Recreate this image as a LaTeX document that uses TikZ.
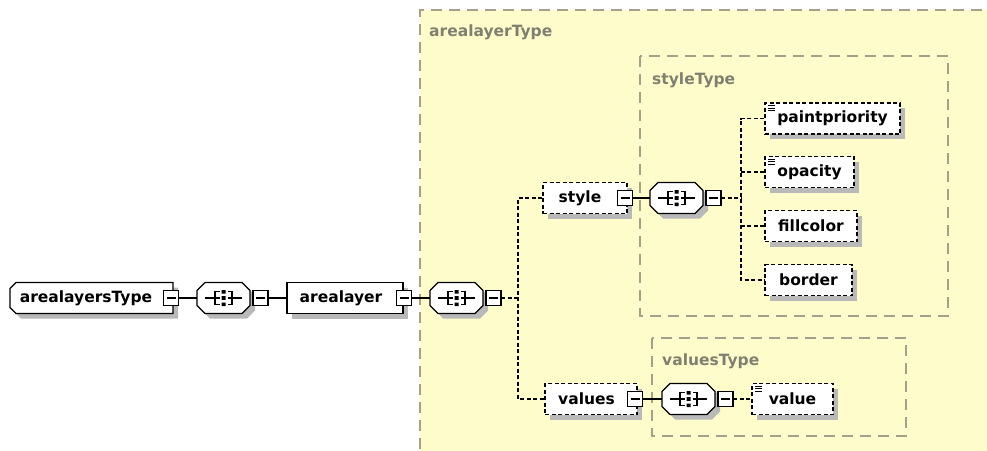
\documentclass[tikz,border=0pt]{standalone}
\usepackage{fontspec}
\setmainfont{DejaVu Sans}
\definecolor{bgyellow}{RGB}{255,252,204}
\definecolor{boxgray}{RGB}{165,160,140}
\definecolor{labelgray}{RGB}{128,128,112}
\definecolor{shadowgray}{RGB}{185,185,185}
\tikzset{
  txt/.style={font=\bfseries\fontsize{15.5}{16}\selectfont, inner sep=0pt},
  grouplabel/.style={txt, text=labelgray, anchor=west},
  outline/.style={draw=black, fill=white, line width=1.3pt, line join=miter},
  elemframe/.style={txt, draw=black, fill=white, line width=1.3pt, minimum height=31pt},
  dashline/.style={dash pattern=on 4pt off 2.5pt},
  shadow/.style={fill=shadowgray},
  groupbox/.style={draw=boxgray, line width=1.4pt, dash pattern=on 11pt off 7pt},
  minusbox/.style={draw=black, fill=white, line width=1.3pt, minimum size=15pt, inner sep=0pt, outer sep=0pt,
    path picture={\draw[line width=1.1pt] ([xshift=3pt]path picture bounding box.west) -- ([xshift=-3pt]path picture bounding box.east);}},
  conn/.style={draw=black, line width=1.3pt},
  optconn/.style={conn, dash pattern=on 4pt off 2.5pt},
  iconline/.style={draw=black, line width=0.9pt},
}
% sequence compositor: name, left x, centre y
\newcommand\seqgroup[3]{%
  \begin{scope}[shift={(#2,#3)}]
    \fill[shadow] (13,-10.5) -- (50,-10.5) -- (58,-2.5) -- (58,12.5) -- (50,20.5) -- (13,20.5) -- (5,12.5) -- (5,-2.5) -- cycle;
    \draw[outline] (8,-15.5) -- (45,-15.5) -- (53,-7.5) -- (53,7.5) -- (45,15.5) -- (8,15.5) -- (0,7.5) -- (0,-7.5) -- cycle;
    \node[inner sep=0pt, minimum width=53pt, minimum height=31pt] (#1) at (26.5,0) {};
    \draw[line width=1.2pt] (8,0) -- (22.5,0) (22.5,-6.5) -- (18,-6.5) -- (18,6.5) -- (22.5,6.5);
    \draw[line width=1.2pt] (45,0) -- (30.5,0) (30.5,-6.5) -- (35,-6.5) -- (35,6.5) -- (30.5,6.5);
    \fill (24.5,-8) rectangle (28.5,-4.5) (24.5,-1.8) rectangle (28.5,1.8) (24.5,4.5) rectangle (28.5,8);
    \node[minusbox] (#1m) at (63.5,0) {};
  \end{scope}}
% element box: name, left, right, centre y, text, extra style
\newcommand\elembox[6]{%
  \fill[shadow] (#2+5,#4-10.5) rectangle (#3+5,#4+20.5);
  \node[elemframe,#6, minimum width={(#3-#2)*1pt}] (#1) at ({(#2+#3)/2},#4) {#5};}
% simple-content icon: left, centre y
\newcommand\eqicon[2]{%
  \draw[iconline] (#1+3,#2-13) -- (#1+10,#2-13) (#1+3,#2-10.5) -- (#1+10,#2-10.5) (#1+3,#2-8) -- (#1+10,#2-8);}
\begin{document}
\begin{tikzpicture}[x=1pt,y=-1pt]
\useasboundingbox (0,0) rectangle (987,450);
\clip (0,0) rectangle (987,450);
\fill[white] (0,0) rectangle (987,450);
% groups
\fill[bgyellow] (420,10) rectangle (1000,460);
\draw[groupbox] (1000,10) -- (420,10) -- (420,460);
\node[grouplabel] (lblA) at (429,32) {arealayerType};
\draw[groupbox] (640,56) rectangle (948,316);
\node[grouplabel] (lblS) at (652,80) {styleType};
\draw[groupbox] (652,338) rectangle (906,436);
\node[grouplabel] (lblV) at (662,361) {valuesType};
% root
\fill[shadow] (21,287.5) -- (178,287.5) -- (178,318.5) -- (21,318.5) -- (15,312.5) -- (15,293.5) -- cycle;
\draw[outline] (16,282.5) -- (173,282.5) -- (173,313.5) -- (16,313.5) -- (10,307.5) -- (10,288.5) -- cycle;
\node[txt, minimum width=163pt, minimum height=31pt] (root) at (91.5,298) {arealayersType\kern11pt};
\node[minusbox] (rootm) at (171,298) {};
\seqgroup{sA}{197}{298}
\elembox{nArealayer}{287}{403}{298}{arealayer\kern8pt}{}
\node[minusbox] (nArealayerm) at (404,298) {};
\seqgroup{sB}{430}{298}
% style
\elembox{nStyle}{543}{627}{198}{style\kern10pt}{dashline}
\node[minusbox] (nStylem) at (625,198) {};
\seqgroup{sC}{650}{198}
\elembox{nPaint}{765}{900}{118.5}{paintpriority}{dashline}
\eqicon{765}{118.5}
\elembox{nOpacity}{765}{854}{172}{opacity}{dashline}
\eqicon{765}{172}
\elembox{nFill}{765}{857}{226}{fillcolor}{dashline}
\elembox{nBorder}{765}{852}{280}{border}{dashline}
% values
\elembox{nValues}{545}{637}{399}{values\kern9pt}{dashline}
\node[minusbox] (nValuesm) at (635,399) {};
\seqgroup{sD}{662}{399}
\elembox{nValue}{752}{833}{399}{value}{dashline}
\eqicon{752}{399}
% connectors
\coordinate (j1) at (518,298);
\coordinate (j2) at (741,198);
\draw[conn] (rootm.east) -- (sA.west);
\draw[conn] (sAm.east) -- (nArealayer.west);
\draw[conn] (nArealayerm.east) -- (sB.west);
\draw[optconn] (sBm.east) -- (j1);
\draw[optconn] (nStyle.west) -| (j1) |- (nValues.west);
\draw[conn] (nStylem.east) -- (sC.west);
\draw[optconn] (sCm.east) -- (j2);
\draw[optconn] (nPaint.west) -| (j2) |- (nBorder.west);
\draw[optconn] (nOpacity.west) -- (nOpacity.west -| j2);
\draw[optconn] (nFill.west) -- (nFill.west -| j2);
\draw[conn] (nValuesm.east) -- (sD.west);
\draw[optconn] (sDm.east) -- (nValue.west);
\end{tikzpicture}
\end{document}
